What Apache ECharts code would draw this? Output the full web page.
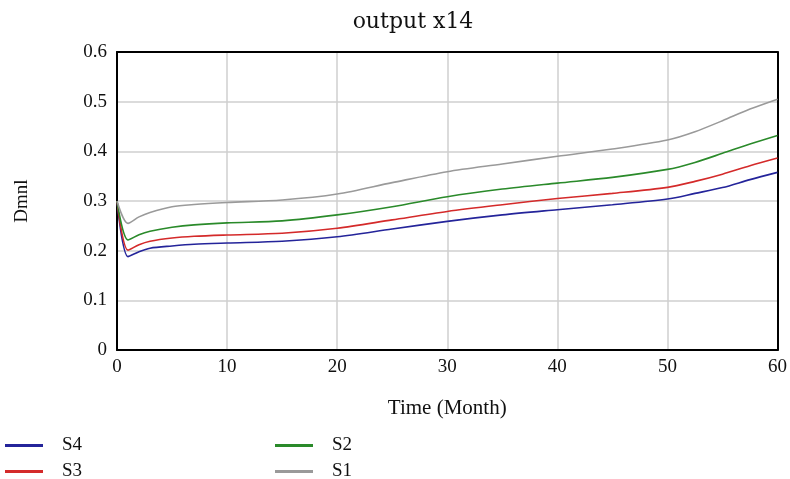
<!DOCTYPE html>
<html>
<head>
<meta charset="utf-8">
<script src="https://cdn.jsdelivr.net/npm/echarts@6/dist/echarts.min.js"></script>
<style>
html,body{margin:0;padding:0;background:#fff;}
#chart{width:790px;height:479px;}
</style>
</head>
<body>
<div id="chart"></div>
<script>
var titleText = 'output x14';
var xName = 'Time (Month)';
var yName = 'Dmnl';
var time = [0, 1, 2, 3, 5, 7, 10, 15, 20, 25, 30, 35, 40, 45, 50, 52.5, 55, 57.5, 60];
var s1 = [0.300, 0.255, 0.268, 0.277, 0.2885, 0.293, 0.297, 0.302, 0.314, 0.337, 0.359, 0.3745, 0.390, 0.4046, 0.4227, 0.4395, 0.4616, 0.485, 0.505];
var s2 = [0.300, 0.2215, 0.232, 0.239, 0.247, 0.252, 0.256, 0.260, 0.272, 0.2885, 0.3087, 0.324, 0.336, 0.3475, 0.3636, 0.3777, 0.396, 0.4147, 0.432];
var s3 = [0.300, 0.201, 0.212, 0.219, 0.2255, 0.229, 0.2316, 0.235, 0.245, 0.262, 0.279, 0.2926, 0.305, 0.3153, 0.3274, 0.3395, 0.354, 0.371, 0.3865];
var s4 = [0.300, 0.188, 0.198, 0.205, 0.2095, 0.213, 0.2155, 0.219, 0.228, 0.2437, 0.259, 0.272, 0.2825, 0.2926, 0.304, 0.3153, 0.327, 0.343, 0.3576];
var seriesNames = ['S4', 'S3', 'S2', 'S1'];
var seriesColors = ['#24249a', '#d42a2a', '#2a8a2a', '#9a9a9a'];

function pairs(vals) { return time.map(function (t, i) { return [t, vals[i]]; }); }
var allVals = [s4, s3, s2, s1];
var legendPos = [[5, 436], [5, 462], [275, 436], [275, 462]];

var chart = echarts.init(document.getElementById('chart'), null, {renderer: 'canvas'});
var serif = 'Liberation Serif';
var noAxis = {
  axisLine: {show: true, onZero: false, lineStyle: {color: '#000', width: 2}},
  axisTick: {show: false}, axisLabel: {show: false}, splitLine: {show: false}
};
chart.setOption({
  animation: false,
  backgroundColor: '#fff',
  title: {
    text: titleText, left: 408, top: 6, textAlign: 'center',
    textStyle: {fontFamily: 'DejaVu Serif', fontSize: 22, fontWeight: 'normal', color: '#111'}
  },
  legend: seriesNames.map(function (n, i) {
    return {
      data: [n], left: legendPos[i][0], top: legendPos[i][1], itemWidth: 38, itemHeight: 3,
      icon: 'rect', padding: 0,
      textStyle: {fontFamily: serif, fontSize: 19, color: '#111', padding: [0, 0, 0, 14]}
    };
  }),
  grid: {left: 117, top: 52, right: 12, bottom: 129, containLabel: false},
  xAxis: [{
    type: 'value', min: 0, max: 60, interval: 10,
    name: xName, nameLocation: 'middle', nameGap: 48,
    nameTextStyle: {fontFamily: serif, fontSize: 21, color: '#111'},
    axisLine: {onZero: false, lineStyle: {color: '#000', width: 2}},
    axisTick: {show: false},
    axisLabel: {fontFamily: serif, fontSize: 19, color: '#111', margin: 8},
    splitLine: {lineStyle: {color: '#cfcfcf', width: 1.5}}
  }, Object.assign({type: 'value', position: 'top', min: 0, max: 60}, noAxis)],
  yAxis: [{
    type: 'value', min: 0, max: 0.6, interval: 0.1,
    name: yName, nameLocation: 'middle', nameGap: 85,
    nameTextStyle: {fontFamily: serif, fontSize: 19, color: '#111'},
    axisLine: {show: true, onZero: false, lineStyle: {color: '#000', width: 2}},
    axisTick: {show: false},
    axisLabel: {fontFamily: serif, fontSize: 19, color: '#111', margin: 10},
    splitLine: {lineStyle: {color: '#cfcfcf', width: 1.5}}
  }, Object.assign({type: 'value', position: 'right', min: 0, max: 0.6}, noAxis)],
  series: seriesNames.map(function (n, i) {
    return {
      name: n, type: 'line', data: pairs(allVals[i]), symbol: 'none',
      smooth: 0.3,
      lineStyle: {color: seriesColors[i], width: 1.6},
      itemStyle: {color: seriesColors[i]}
    };
  })
});
</script>
</body>
</html>
